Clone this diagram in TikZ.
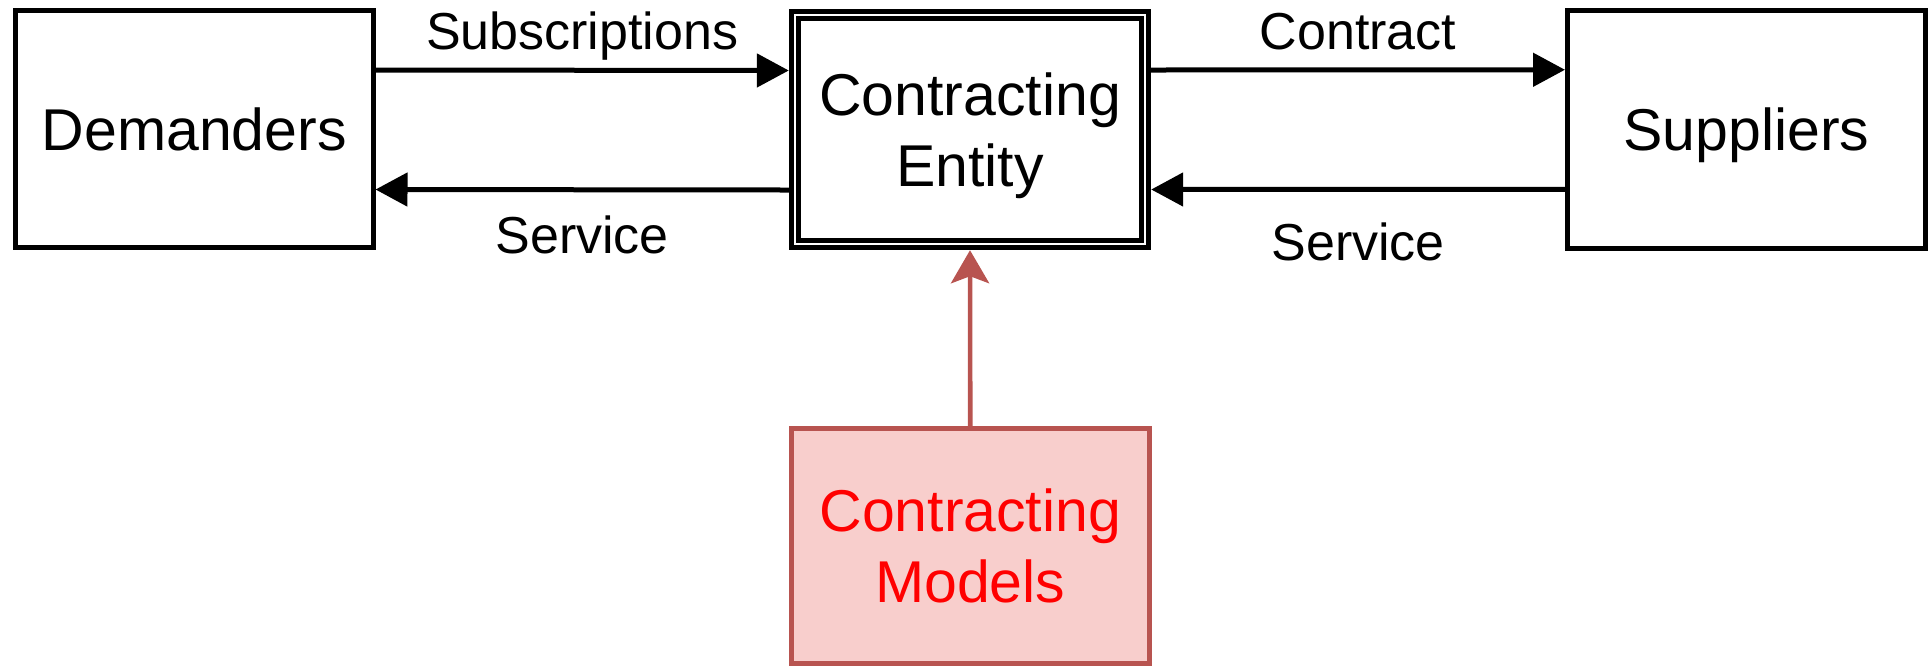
\documentclass[tikz,border=0pt]{standalone}
\usepackage{fontspec}
\setmainfont{Liberation Sans}
\usetikzlibrary{arrows.meta}
\definecolor{redstroke}{HTML}{B85450}
\definecolor{redfill}{HTML}{F8CECC}
\definecolor{redtext}{HTML}{FF0000}
\tikzset{
  box/.style={draw=black, line width=2.5pt, rectangle, inner sep=0pt, align=center,
    text depth=0pt, font=\fontsize{29.5}{35.8}\selectfont},
  dblbox/.style={box, line width=2.4pt, double, double distance=1.4pt, outer sep=3.1pt},
  modelbox/.style={box, draw=redstroke, fill=redfill, text=redtext},
  arr/.style={line width=2.5pt, -{Triangle[length=16pt, width=16.5pt]}},
  redarr/.style={line width=2.3pt, draw=redstroke, -{Stealth[length=16.5pt, width=19pt, inset=3.5pt, fill=redstroke]}},
  lbl/.style={anchor=base, inner sep=0pt, font=\fontsize{26}{31.5}\selectfont}
}
\begin{document}
\begin{tikzpicture}[x=0.5pt, y=-0.5pt]
\useasboundingbox (0,0) rectangle (1932,666);
\node[box, minimum width=178.75pt, minimum height=118.5pt] (dem) at (194.25,129) {Demanders};
\node[dblbox, minimum width=175pt, minimum height=114.5pt] (ce) at (970,129.5) {Contracting\\Entity};
\node[box, minimum width=178.75pt, minimum height=118.75pt] (sup) at (1746.25,129.25) {Suppliers};
\node[modelbox, minimum width=179.25pt, minimum height=117.25pt] (cm) at (970.25,545.75) {Contracting\\Models};

\draw[arr] ([yshift=29.5pt]dem.east) -- node[lbl, yshift=10.5pt] {Subscriptions} ([yshift=29.5pt]ce.west);
\draw[arr] ([yshift=-30.25pt]ce.west) -- node[lbl, yshift=-31.9pt] {Service} ([yshift=-30.25pt]dem.east);
\draw[arr] ([yshift=29.75pt]ce.east) -- node[lbl, yshift=10pt] {Contract} ([yshift=29.75pt]sup.west);
\draw[arr] ([yshift=-30pt]sup.west) -- node[lbl, yshift=-35.35pt] {Service} ([yshift=-30pt]ce.east);
\draw[redarr] (cm.north) -- (ce.south);
\end{tikzpicture}
\end{document}
